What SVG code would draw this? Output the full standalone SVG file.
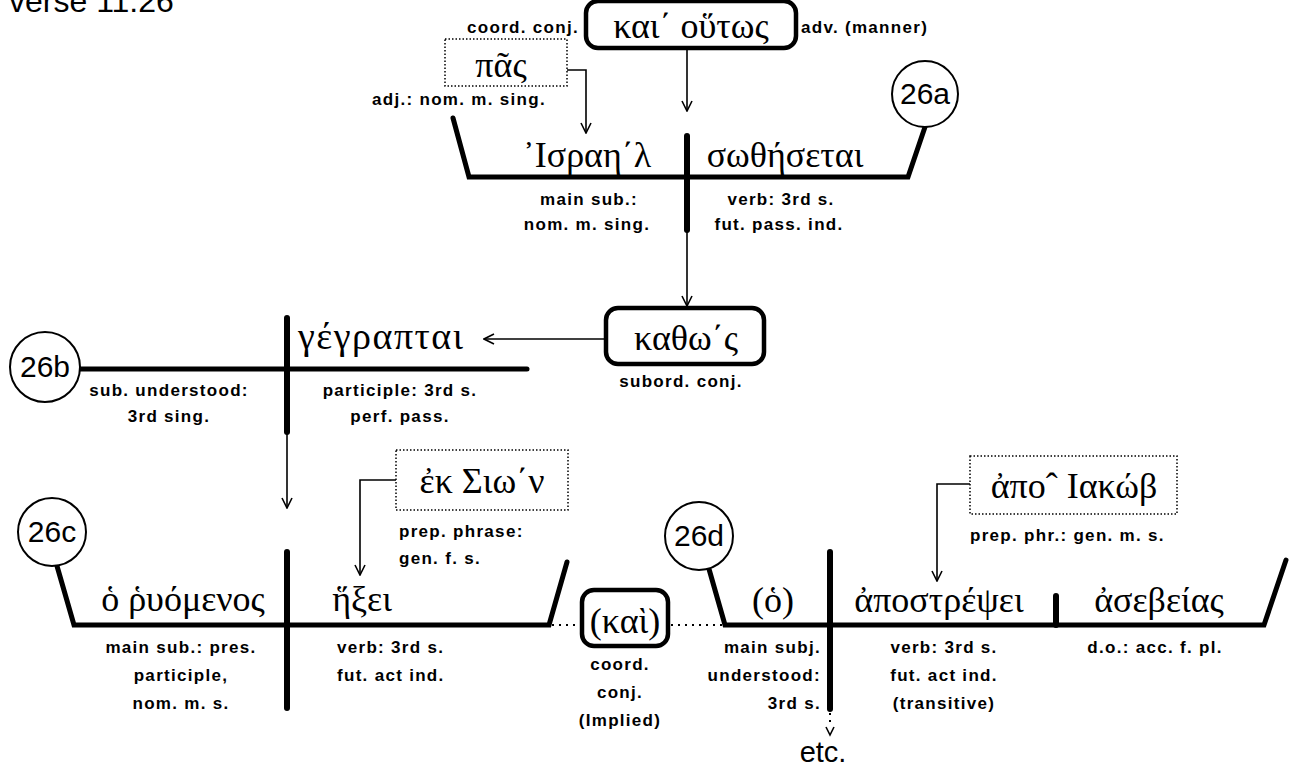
<svg xmlns="http://www.w3.org/2000/svg" width="1300" height="769" viewBox="0 0 1300 769">
<defs>
<marker id="arr" viewBox="0 0 12 12" refX="11" refY="6" markerWidth="12" markerHeight="12" markerUnits="userSpaceOnUse" orient="auto">
<path d="M1,1 L11,6 L1,11" fill="none" stroke="#000" stroke-width="1.6"/>
</marker>
</defs>
<style>
.g{font-family:"Liberation Serif","DejaVu Serif",serif;font-size:36px;fill:#000}
.l{font-family:"Liberation Sans",Arial,sans-serif;font-size:17px;font-weight:bold;letter-spacing:1.3px;fill:#000}
.n{font-family:"Liberation Sans",Arial,sans-serif;font-size:30px;fill:#000}
.base{fill:none;stroke:#000;stroke-width:5;stroke-linejoin:miter;stroke-linecap:round}
.div{stroke:#000;stroke-width:6;stroke-linecap:round}
.thin{fill:none;stroke:#000;stroke-width:1.6}
.rbox{fill:#fff;stroke:#000;stroke-width:4.5}
.dbox{fill:#fff;stroke:#000;stroke-width:1.5;stroke-dasharray:1.5 2}
.circ{fill:#fff;stroke:#000;stroke-width:2}
.dot{fill:none;stroke:#000;stroke-width:2;stroke-dasharray:2 5}
.m{text-anchor:middle}
.e{text-anchor:end}
</style>
<rect width="1300" height="769" fill="#fff"/>
<text class="n" x="9" y="12" style="font-size:32px">verse 11:26</text>

<g id="connectors">
<line class="thin" x1="687" y1="48" x2="687" y2="111" marker-end="url(#arr)"/>
<polyline class="thin" points="567,70 586,70 586,133" marker-end="url(#arr)"/>
<line class="thin" x1="687" y1="230" x2="687" y2="306" marker-end="url(#arr)"/>
<line class="thin" x1="606" y1="339" x2="484" y2="339" marker-end="url(#arr)"/>
<line class="thin" x1="287" y1="432" x2="287" y2="508" marker-end="url(#arr)"/>
<polyline class="thin" points="396,480 360,480 360,575" marker-end="url(#arr)"/>
<polyline class="thin" points="970,484 937,484 937,581" marker-end="url(#arr)"/>
<line class="dot" x1="552" y1="625" x2="582" y2="625"/>
<line class="dot" x1="671" y1="625" x2="722" y2="625"/>
<line class="dot" x1="830" y1="713" x2="830" y2="722"/>
<path d="M826,727 L830,735 L834,727" fill="none" stroke="#000" stroke-width="1.6"/>
</g>

<g id="n-kai-houtos">
<rect class="rbox" x="586" y="1" width="210" height="47" rx="12"/>
<text class="g m" x="691" y="38">και΄ οὕτως</text>
<text class="l e" x="579" y="33">coord. conj.</text>
<text class="l" x="801" y="33">adv. (manner)</text>
</g>

<g id="n-pas">
<rect class="dbox" x="445" y="39" width="122" height="47"/>
<text class="g m" x="501" y="77">πᾶς</text>
<text class="l" x="372" y="105">adj.: nom. m. sing.</text>
</g>

<g id="n-26a">
<polyline class="base" points="453,118 469,177 908,177 925,127"/>
<line class="div" x1="687" y1="136" x2="687" y2="230"/>
<circle class="circ" cx="925" cy="94" r="33"/>
<text class="n m" x="925" y="104">26a</text>
<text class="g m" x="587" y="167">᾿Ισραη΄λ</text>
<text class="g m" x="785" y="167">σωθήσεται</text>
<text class="l m" x="589" y="205">main sub.:</text>
<text class="l m" x="587" y="230">nom. m. sing.</text>
<text class="l m" x="781" y="205">verb: 3rd s.</text>
<text class="l m" x="779" y="230">fut. pass. ind.</text>
</g>

<g id="n-kathos">
<rect class="rbox" x="606" y="308" width="158" height="56" rx="12"/>
<text class="g m" x="686" y="350">καθω΄ς</text>
<text class="l m" x="681" y="387">subord. conj.</text>
</g>

<g id="n-26b">
<line class="base" x1="80" y1="369" x2="527" y2="369"/>
<line class="div" x1="287" y1="318" x2="287" y2="432"/>
<circle class="circ" cx="45" cy="367" r="35"/>
<text class="n m" x="45" y="377">26b</text>
<text class="g" x="298" y="349" style="font-size:38px;letter-spacing:1.5px">γέγραπται</text>
<text class="l m" x="169" y="396">sub. understood:</text>
<text class="l m" x="169" y="422">3rd sing.</text>
<text class="l m" x="400" y="396">participle: 3rd s.</text>
<text class="l m" x="400" y="422">perf. pass.</text>
</g>

<g id="n-ek-sion">
<rect class="dbox" x="396" y="450" width="172" height="60"/>
<text class="g m" x="482" y="493">ἐκ Σιω΄ν</text>
<text class="l" x="399" y="537">prep. phrase:</text>
<text class="l" x="399" y="564">gen. f. s.</text>
</g>

<g id="n-26c">
<polyline class="base" points="57,566 74,625 549,625 567,562"/>
<line class="div" x1="287" y1="552" x2="287" y2="708"/>
<circle class="circ" cx="52" cy="532" r="34"/>
<text class="n m" x="52" y="542">26c</text>
<text class="g m" x="183" y="611">ὁ ῥυόμενος</text>
<text class="g m" x="362" y="611">ἥξει</text>
<text class="l m" x="181" y="653">main sub.: pres.</text>
<text class="l m" x="181" y="681">participle,</text>
<text class="l m" x="181" y="709">nom. m. s.</text>
<text class="l" x="337" y="653">verb: 3rd s.</text>
<text class="l" x="337" y="681">fut. act ind.</text>
</g>

<g id="n-kai">
<rect class="rbox" x="582" y="590" width="86" height="56" rx="12"/>
<text class="g m" x="625" y="633">(καὶ)</text>
<text class="l m" x="620" y="670">coord.</text>
<text class="l m" x="620" y="698">conj.</text>
<text class="l m" x="620" y="726">(Implied)</text>
</g>

<g id="n-apo-iakob">
<rect class="dbox" x="970" y="456" width="207" height="58"/>
<text class="g m" x="1074" y="498">ἀποˆ Ιακώβ</text>
<text class="l" x="970" y="541">prep. phr.: gen. m. s.</text>
</g>

<g id="n-26d">
<polyline class="base" points="709,569 725,625 1264,625 1286,560"/>
<line class="div" x1="830" y1="552" x2="830" y2="709"/>
<line class="div" x1="1056" y1="596" x2="1056" y2="625"/>
<circle class="circ" cx="699" cy="536" r="34"/>
<text class="n m" x="699" y="546">26d</text>
<text class="g m" x="773" y="612">(ὁ)</text>
<text class="g m" x="939" y="612">ἀποστρέψει</text>
<text class="g m" x="1159" y="612">ἀσεβείας</text>
<text class="l e" x="821" y="653">main subj.</text>
<text class="l e" x="821" y="681">understood:</text>
<text class="l e" x="821" y="709">3rd s.</text>
<text class="l m" x="944" y="653">verb: 3rd s.</text>
<text class="l m" x="944" y="681">fut. act ind.</text>
<text class="l m" x="944" y="709">(transitive)</text>
<text class="l m" x="1155" y="653">d.o.: acc. f. pl.</text>
<text class="n m" x="823" y="762" style="font-size:29px">etc.</text>
</g>
</svg>
